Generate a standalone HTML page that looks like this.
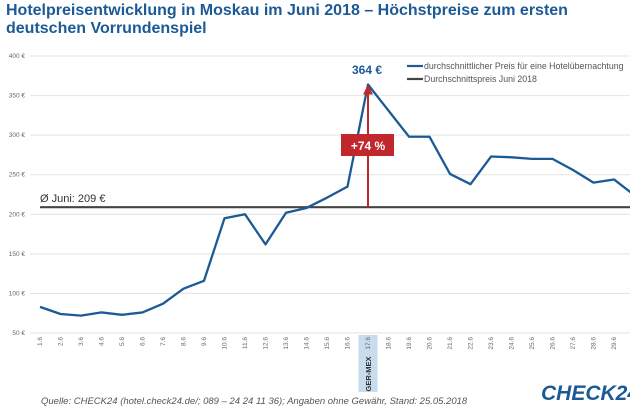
<!DOCTYPE html>
<html><head><meta charset="utf-8"><style>
body{margin:0;width:630px;height:412px;overflow:hidden;background:#fff;font-family:"Liberation Sans",sans-serif}
.t{position:absolute;left:6px;top:2px;font-size:16px;font-weight:bold;color:#1c5a96;line-height:18px;margin:0}
</style></head><body>
<h1 class="t">Hotelpreisentwicklung in Moskau im Juni 2018 – Höchstpreise zum ersten<br>deutschen Vorrundenspiel</h1>
<svg id="c" width="630" height="412" style="position:absolute;left:0;top:0"></svg>
<script>
const categories=["1.6","2.6","3.6","4.6","5.6","6.6","7.6","8.6","9.6","10.6","11.6","12.6","13.6","14.6","15.6","16.6","17.6","18.6","19.6","20.6","21.6","22.6","23.6","24.6","25.6","26.6","27.6","28.6","29.6","30.6"];
const prices=[83,74,72,76,73,76,87,106,116,195,200,162,202,208,221,235,364,331,298,298,251,238,273,272,270,270,256,240,244,224];
const average=[209];
const yTicks=[50,100,150,200,250,300,350,400];
const NS="http://www.w3.org/2000/svg";
const svg=document.getElementById('c');
const x=i=>40+i*20.5;
const y=v=>333-(v-50)*(277/350);
function el(t,a,p){const e=document.createElementNS(NS,t);for(const k in a)e.setAttribute(k,a[k]);(p||svg).appendChild(e);return e;}
const hb=el('rect',{x:x(16)-9.5,y:335,width:19,height:57,fill:'#c9dcee'});


yTicks.forEach(v=>{
  const g=el('line',{x1:30,x2:630,y1:y(v),y2:y(v),stroke:'#e3e3e3','stroke-width':1});
  
  
  const t=el('text',{x:25,y:y(v)+2,'font-size':6.5,fill:'#666','text-anchor':'end'});
  t.textContent=v+' €';
  
  
});
categories.forEach((c,i)=>{
  const t=el('text',{transform:`translate(${x(i)+2},${337}) rotate(-90)`,'font-size':6.5,fill:'#666','text-anchor':'end'});
  t.textContent=c;
  
  
});
const gm=el('text',{transform:`translate(${x(16)+3},${374}) rotate(-90)`,'font-size':7.5,'font-weight':'bold',fill:'#333','text-anchor':'middle'});
gm.textContent='GER-MEX';


const al=el('line',{x1:40,x2:630,y1:y(average[0]),y2:y(average[0]),stroke:'#444','stroke-width':2.2});


const at=el('text',{x:40,y:y(average[0])-5,'font-size':11,fill:'#333'});
at.textContent='Ø Juni: '+average[0]+' €';


const pl=el('polyline',{points:prices.map((v,i)=>x(i)+','+y(v)).join(' '),fill:'none',stroke:'#1c5a96','stroke-width':2.3,'stroke-linejoin':'round'});


const pk=prices.indexOf(Math.max(...prices));
const ar=el('line',{x1:x(pk),x2:x(pk),y1:y(average[0]),y2:y(prices[pk])+8,stroke:'#c0282d','stroke-width':2});


const ah=el('polygon',{points:`${x(pk)-5},${y(prices[pk])+10} ${x(pk)+5},${y(prices[pk])+10} ${x(pk)},${y(prices[pk])}`,fill:'#c0282d'});


const bx=el('rect',{x:x(pk)-27,y:134,width:53,height:22,fill:'#c0282d'});


const pt=el('text',{x:x(pk),y:150,'font-size':12,'font-weight':'bold',fill:'#fff','text-anchor':'middle'});
pt.textContent='+'+Math.round((prices[pk]/average[0]-1)*100)+' %';


const pv=el('text',{x:x(pk)-1,y:74,'font-size':12,'font-weight':'bold',fill:'#1c5a96','text-anchor':'middle'});
pv.textContent=prices[pk]+' €';


[['#1c5a96','durchschnittlicher Preis für eine Hotelübernachtung',66],['#444','Durchschnittspreis Juni 2018',79]].forEach(l=>{
  const ln=el('line',{x1:407,x2:423,y1:l[2],y2:l[2],stroke:l[0],'stroke-width':2.2});
  
  
  const t=el('text',{x:424,y:l[2]+3,'font-size':8.8,fill:'#555'});
  t.textContent=l[1];
  
  
});
const src=el('text',{x:41,y:404,'font-size':9.5,'font-style':'italic',fill:'#555'});
src.textContent='Quelle: CHECK24 (hotel.check24.de/; 089 – 24 24 11 36); Angaben ohne Gewähr, Stand: 25.05.2018';


const lg=el('text',{x:541,y:400,'font-size':21,'font-style':'italic','font-weight':'bold',fill:'#1c5a96'});
lg.textContent='CHECK24';


</script>
</body></html>
